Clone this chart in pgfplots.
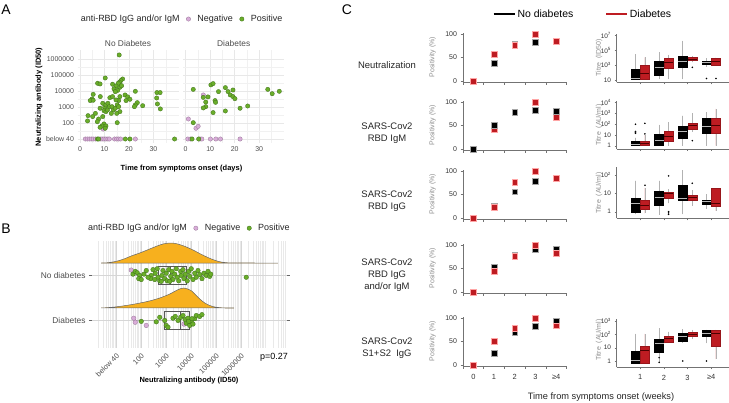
\documentclass[border=0pt]{standalone}
\usepackage{fontspec}
\setmainfont{Liberation Sans}
\usepackage{pgfplots}
\pgfplotsset{compat=1.18}
\usepgfplotslibrary{statistics}
\newcommand\fs[1]{\fontsize{#1}{#1}\selectfont}
\definecolor{grn}{RGB}{106,174,42}
\definecolor{grnE}{RGB}{62,110,28}
\definecolor{pnk}{RGB}{216,172,216}
\definecolor{pnkE}{RGB}{150,118,150}
\definecolor{orng}{RGB}{247,176,30}
\definecolor{dred}{RGB}{190,28,34}
\definecolor{txtg}{RGB}{77,77,77}
\definecolor{gridc}{RGB}{232,232,232}
\pgfplotsset{
  base/.style={scale only axis, anchor=south west, /pgf/number format/assume math mode=true, tick label style={font=\fs{7}}},
  facetA/.style={base, width=101bp, height=93bp, xmin=-1, xmax=40.2, ymin=0.75, ymax=6.56,
     axis line style={draw=none}, tick style={draw=none}, grid=both,
     major grid style={draw=gridc, line width=0.6pt}, minor grid style={draw=gridc!60, line width=0.4pt},
     xtick={0,10,20,30}, minor xtick={5,15,25,35}, ytick={1,2,3,4,5,6}, minor ytick={1.5,2.5,3.5,4.5,5.5},
     tick label style={text=txtg, font=\fs{7}}},
  negA/.style={only marks, mark=*, mark size=2.2bp, mark options={fill=pnk, draw=pnkE, line width=0.3pt}},
  posA/.style={only marks, mark=*, mark size=2.2bp, mark options={fill=grn, draw=grnE, line width=0.3pt}},
  mlegend/.style={legend style={draw=none, fill=none, legend columns=-1, font=\fs{9}, text=black!85, /tikz/every even column/.append style={column sep=0bp}}, legend image code/.code={\path[draw=none, fill=none] (0bp,-1bp) rectangle (14bp,1bp); \draw[##1] plot coordinates {(7bp,0bp)};}},
  cscat/.style={base, width=103.5bp, height=49.8bp, xmin=-0.5, xmax=4.5, ymin=-3, ymax=103, clip=false,
     axis lines=left, axis line style={-, draw=black!55, line width=0.5pt}, tick align=outside, major tick length=2.5bp,
     tick style={black!55, line width=0.5pt}, xtick={-0.5,0.5,1.5,2.5,3.5,4.5}, xticklabels={}, ytick={0,50,100},
     tick label style={text=black!80, font=\fs{7}}},
  ksq/.style={only marks, mark=square*, mark size=2.9bp, mark options={fill=black, draw=black!35, line width=0.4pt}},
  rsq/.style={only marks, mark=square*, mark size=2.9bp, mark options={fill=dred, draw=red!35, line width=0.4pt}},
  cbox/.style={base, width=112.5bp, xmin=0, xmax=4.75, axis lines=left, axis line style={-, draw=black!55, line width=0.5pt},
     tick align=outside, major tick length=2bp, tick style={black!55}, xtick={1,2,3,4}, xticklabels={},
     tick label style={text=black!80, font=\fs{6.5}}, boxplot/draw direction=y},
  kbox/.style={draw=black, fill=black, line width=0.4pt, boxplot/box extend=0.38, boxplot/whisker extend=0,
     boxplot/every whisker/.style={draw=gray!60, line width=0.7pt}, boxplot/every median/.style={draw=gray!55, line width=0.6pt}},
  rbox/.style={draw=dred!80!black, fill=dred, line width=0.4pt, boxplot/box extend=0.38, boxplot/whisker extend=0,
     boxplot/every whisker/.style={draw=gray!60, line width=0.7pt}, boxplot/every median/.style={draw=red!30!black, line width=0.6pt}},
  outl/.style={only marks, mark=*, mark size=0.6bp, mark options={fill=gray!60, draw=none}},
}
\newcommand\KB[6]{\addplot[kbox, boxplot prepared={draw position=#1, lower whisker=#2, lower quartile=#3, median=#4, upper quartile=#5, upper whisker=#6}] coordinates {};}
\newcommand\RB[6]{\addplot[rbox, boxplot prepared={draw position=#1, lower whisker=#2, lower quartile=#3, median=#4, upper quartile=#5, upper whisker=#6}] coordinates {};}
\begin{document}
\begin{tikzpicture}
\path[use as bounding box] (0,0) rectangle (729bp,403bp);
% ---------------- Panel A ----------------
\node[font=\fs{14}] at (6bp,393bp) {A};
\begin{axis}[facetA, at={(77.5bp,260bp)}, yticklabels={below 40,100,1000,10000,100000,1000000},
  mlegend, legend style={at={(1.03,1.333)}, anchor=center}]
\addlegendimage{empty legend}\addlegendentry{anti-RBD IgG and/or IgM}
\addplot[negA] coordinates {(9.5,1.62)(2.2,1)(3.0,1)(3.8,1)(4.6,1)(5.4,1)(6.3,1)(8.2,1)(9.0,1)(9.8,1)(10.6,1)(11.4,1)(12.0,1)(14.1,1)(15.0,1)(15.8,1)(16.6,1)(22.6,1)};
\addlegendentry{Negative}
\addplot[posA] coordinates {(16.0,6.25)(10.3,4.81)(7.2,4.48)(8.2,4.44)(13.3,4.42)(17.4,4.75)(16.7,4.65)(16.1,4.54)(15.6,4.48)(14.7,4.31)(16.3,4.23)(17.0,4.33)(13.9,4.13)(15.4,4.04)(14.4,3.96)(22.6,3.98)(31.4,3.90)(32.7,3.90)(5.4,3.79)(8.3,3.65)(4.9,3.50)(4.2,3.40)(5.4,3.42)(12.2,3.58)(13.3,3.65)(16.3,3.65)(18.4,3.75)(19.5,3.63)(20.4,3.48)(18.8,3.40)(15.8,3.40)(14.7,3.44)(31.3,3.56)(31.6,3.19)(32.8,2.88)(23.4,3.27)(22.6,3.13)(22.2,3.02)(25.6,3.08)(9.3,3.23)(10.1,2.98)(10.6,3.13)(11.4,3.23)(12.0,3.02)(8.2,2.92)(9.8,2.77)(10.6,2.71)(11.2,2.81)(13.1,3.02)(13.6,2.81)(14.4,2.92)(15.2,3.13)(15.8,3.02)(16.3,2.71)(12.8,2.60)(15.0,2.60)(6.3,2.60)(5.2,2.40)(3.3,2.46)(3.1,2.13)(9.3,2.40)(7.6,2.25)(7.1,2.08)(15.2,2.02)(9.8,1.94)(9.0,1.81)(8.2,1.73)(10.6,1.81)(10.3,1.67)(7.1,1)(7.6,1)(18.5,1)(20.4,1)(38.6,1)};
\addlegendentry{Positive}
\end{axis}
\begin{axis}[facetA, at={(183.2bp,260bp)}, yticklabels={}]
\addplot[negA] coordinates {(7.2,3.75)(1.1,2.25)(4.2,1.67)(5.1,1.79)(0.9,1)(2.0,1)(5.8,1)(6.6,1)(10.1,1)(12.3,1)(14.2,1)(22.2,1)};
\addplot[posA] coordinates {(3.1,4.10)(10.3,4.38)(11.2,4.46)(16.2,4.21)(17.3,3.96)(19.3,4.06)(18.2,3.75)(19.3,3.65)(20.1,3.52)(13.4,3.96)(33.5,4.10)(35.3,3.83)(38.2,3.98)(7.2,3.60)(9.1,3.63)(8.2,3.31)(12.0,3.40)(12.2,3.29)(8.2,3.02)(7.2,2.94)(11.2,2.65)(16.2,2.75)(22.2,2.92)(25.3,3.06)(3.1,2.02)(2.6,1)(5.3,1)};
\end{axis}
\node[font=\fs{8.4}, text=txtg] at (128bp,359bp) {No Diabetes};
\node[font=\fs{8.4}, text=txtg] at (233.7bp,359bp) {Diabetes};
\node[font=\bfseries\fs{7.5}, rotate=90] at (39bp,306bp) {Neutralizing antibody (ID50)};
\node[font=\bfseries\fs{7.5}] at (181.5bp,234bp) {Time from symptoms onset (days)};
% ---------------- Panel B ----------------
\node[font=\fs{14}] at (6bp,174bp) {B};
\begin{axis}[base, at={(92bp,55bp)}, width=195bp, height=107bp, xmin=0.04, xmax=7.84, ymin=0.378, ymax=2.756,
  axis line style={draw=none}, xtick={1,2,3,4,5,6}, xticklabels={below 40,100,1000,10000,100000,1000000},
  minor xtick={0.301,0.477,0.602,0.699,0.778,0.845,0.903,0.954,1.301,1.477,1.602,1.699,1.778,1.845,1.903,1.954,2.301,2.477,2.602,2.699,2.778,2.845,2.903,2.954,3.301,3.477,3.602,3.699,3.778,3.845,3.903,3.954,4.301,4.477,4.602,4.699,4.778,4.845,4.903,4.954,5.301,5.477,5.602,5.699,5.778,5.845,5.903,5.954,6.301,6.477,6.602,6.699,6.778,6.845,6.903,6.954,7.301,7.477,7.602,7.699,7.778},
  ytick={1,2}, yticklabels={Diabetes,No diabetes}, xmajorgrids, xminorgrids, ymajorgrids,
  major grid style={draw=gray!32, line width=0.6pt}, minor grid style={draw=gray!17, line width=0.35pt},
  tick align=outside, major tick length=3bp, minor tick length=0pt, xtick style={draw=none}, ytick style={draw=black!60, line width=0.5pt},
  xticklabel shift=-3bp,
  x tick label style={rotate=45, anchor=north east, text=txtg, font=\fs{7.4}}, y tick label style={text=txtg, font=\fs{8.4}},
  boxplot/draw direction=x, mlegend, legend style={at={(0.497,1.12)}, anchor=center}]
\addlegendimage{empty legend}\addlegendentry{anti-RBD IgG and/or IgM}
\addlegendimage{negA}\addlegendentry{Negative}
\addlegendimage{posA}\addlegendentry{Positive}
\addplot[fill=orng, draw=black!60, line width=0.5pt, smooth, tension=0.5] coordinates {(0.41,2.267)(0.68,2.274)(1.01,2.304)(1.35,2.363)(1.61,2.423)(1.95,2.489)(2.28,2.563)(2.61,2.637)(2.88,2.689)(3.15,2.711)(3.41,2.697)(3.75,2.637)(4.08,2.556)(4.41,2.460)(4.75,2.371)(5.08,2.304)(5.41,2.274)(5.88,2.267)(6.21,2.271)(6.55,2.267)(7.48,2.267)} -- cycle;
\addplot[fill=orng, draw=black!60, line width=0.5pt, smooth, tension=0.5] coordinates {(0.41,1.267)(0.95,1.289)(1.61,1.341)(2.28,1.415)(2.75,1.489)(3.15,1.578)(3.48,1.674)(3.72,1.711)(4.01,1.652)(4.28,1.504)(4.55,1.378)(4.88,1.297)(5.35,1.267)(5.72,1.267)} -- cycle;
\addplot[draw=black!65, line width=0.5pt, boxplot prepared={draw position=2, lower whisker=1.6, lower quartile=2.68, median=3.19, upper quartile=3.81, upper whisker=4.75, box extend=0.4, whisker extend=0}, boxplot/every whisker/.style={draw=gray!60}] coordinates {};
\addplot[draw=black!65, line width=0.5pt, boxplot prepared={draw position=1, lower whisker=1.72, lower quartile=2.95, median=3.59, upper quartile=3.95, upper whisker=4.35, box extend=0.4, whisker extend=0}, boxplot/every whisker/.style={draw=gray!60}] coordinates {};
\addplot[negA, mark size=2.3bp] coordinates {(1.61,2.11)(1.71,1.04)(1.77,0.95)(2.21,0.88)(3.72,0.91)};
\addplot[posA, mark size=2.3bp] coordinates {(1.68,2.02)(1.77,2.08)(1.85,2.05)(1.95,1.99)(1.91,1.92)(2.01,1.90)(2.12,2.02)(2.21,2.10)(2.41,1.99)(2.39,1.92)(2.48,2.12)(2.57,2.04)(2.65,2.14)(2.68,1.95)(2.75,1.87)(2.84,1.99)(2.88,2.10)(2.95,1.92)(3.01,2.04)(3.05,1.87)(3.11,2.12)(3.19,1.97)(3.24,2.08)(3.28,1.90)(3.35,2.02)(3.41,2.14)(3.45,1.95)(3.51,1.87)(3.59,2.08)(3.61,1.99)(3.68,2.12)(3.72,1.92)(3.77,2.02)(3.85,1.87)(3.91,2.08)(3.95,1.97)(4.01,2.14)(4.08,1.90)(4.15,2.04)(4.21,1.95)(4.28,2.10)(4.35,2.01)(4.44,1.92)(4.52,2.04)(4.61,1.99)(4.68,2.08)(4.75,1.97)(4.79,2.02)(6.21,1.95)(2.81,1.86)(3.15,1.86)(2.28,1.95)(2.55,1.90)
(2.01,0.97)(2.61,0.96)(2.75,1.06)(2.95,0.99)(3.01,0.88)(3.08,0.84)(3.28,1.04)(3.37,1.08)(3.48,0.99)(3.59,1.06)(3.68,1.10)(3.77,1.01)(3.81,0.93)(3.88,1.04)(3.95,0.88)(4.01,0.97)(4.08,0.91)(4.15,1.03)(4.21,1.10)(4.35,1.08)(4.44,1.12)(3.91,0.97)(4.04,1.03)};
\end{axis}
\node[font=\bfseries\fs{7.5}] at (189bp,22bp) {Neutralizing antibody (ID50)};
\node[font=\fs{9}] at (274bp,46bp) {p=0.27};
% ---------------- Panel C ----------------
\node[font=\fs{14}] at (347bp,393bp) {C};
\begin{axis}[cscat, at={(463bp,320.6bp)},
  legend style={at={(1.16,1.373)}, anchor=center, draw=none, fill=none, legend columns=-1, font=\fs{10.5}, text=black, /tikz/every even column/.append style={column sep=30bp}},
  legend image code/.code={\draw[#1] (0bp,0bp) -- (21bp,0bp);}]
\addlegendimage{black, line width=1.6pt}\addlegendentry{No diabetes}
\addlegendimage{dred, line width=1.6pt}\addlegendentry{Diabetes}
\addplot[ksq] coordinates {(0,0)(1,37.6)(2,79.4)(3,82.3)(4,85)};
\addplot[rsq] coordinates {(0,0)(1,56.7)(2,76.6)(3,100)(4,84)};
\end{axis}
\begin{axis}[cscat, at={(463bp,252.6bp)}]
\addplot[rsq] coordinates {(0,0)(1,42.3)(2,77.5)(3,100)(4,66.9)};
\addplot[ksq] coordinates {(0,0)(1,51.4)(2,77.5)(3,82.4)(4,79.6)};
\end{axis}
\begin{axis}[cscat, at={(463bp,183.6bp)}]
\addplot[ksq] coordinates {(0,0)(1,24.5)(2,56)(3,79)(4,85)};
\addplot[rsq] coordinates {(0,0)(1,22.4)(2,77)(3,100)(4,84)};
\end{axis}
\begin{axis}[cscat, at={(463bp,109.6bp)}]
\addplot[ksq] coordinates {(0,0)(1,52)(2,78)(3,90.8)(4,91.5)};
\addplot[rsq] coordinates {(0,0)(1,43.7)(2,77)(3,100)(4,83)};
\end{axis}
\begin{axis}[cscat, at={(463bp,36.6bp)}, extra x ticks={0,1,2,3,4}, extra x tick labels={0,1,2,3,≥4},
  extra x tick style={major tick length=0pt, tick label style={yshift=-4bp, font=\fs{7.5}}}]
\addplot[ksq] coordinates {(0,0)(1,24.6)(2,69)(3,83)(4,93.7)};
\addplot[rsq] coordinates {(0,0)(1,50.7)(2,77.5)(3,100)(4,83.8)};
\end{axis}
% boxplots
\begin{axis}[cbox, at={(616.5bp,320.7bp)}, height=48bp, ymin=0.69, ymax=7.14, ytick={1,3,5,7},
  yticklabels={10,10\textsuperscript{3},10\textsuperscript{5},10\textsuperscript{7}}]
\KB{0.8}{1.13}{1.13}{1.25}{2.48}{4.45}
\RB{1.2}{1.13}{1.13}{1.9}{2.93}{4.05}
\KB{1.8}{1.13}{1.67}{2.7}{3.47}{4.72}
\RB{2.2}{1.13}{2.57}{3.38}{3.91}{4.36}
\KB{2.8}{1.13}{2.7}{3.47}{4.14}{6.25}
\RB{3.2}{3.38}{3.6}{3.83}{4.0}{4.2}
\KB{3.8}{2.8}{3.1}{3.33}{3.56}{3.9}
\RB{4.2}{2.93}{2.93}{3.47}{3.91}{4.0}
\addplot[outl] coordinates {(3.2,2.7)(3.8,1.2)(4.2,1.2)};
\end{axis}
\begin{axis}[cbox, at={(616.5bp,254bp)}, height=48bp, ymin=-0.31, ymax=4.12, ytick={0,1,2,3,4},
  yticklabels={1,10,10\textsuperscript{2},10\textsuperscript{3},10\textsuperscript{4}}]
\KB{0.8}{0}{0}{0.1}{0.37}{0.74}
\RB{1.2}{0}{0}{0.22}{0.37}{0.98}
\KB{1.8}{0}{0}{0.52}{1.05}{1.91}
\RB{2.2}{0}{0.37}{0.83}{1.29}{2.15}
\KB{2.8}{0}{0.68}{1.35}{1.75}{2.77}
\RB{3.2}{1.29}{1.54}{1.85}{2.06}{2.98}
\KB{3.8}{0}{1.17}{1.82}{2.5}{3.1}
\RB{4.2}{0}{1.17}{1.9}{2.5}{3.4}
\addplot[outl] coordinates {(0.8,1.97)(0.8,1.3)(0.8,1.23)(0.8,1.15)(1.2,2.06)(1.2,1.08)(3.2,0.46)};
\end{axis}
\begin{axis}[cbox, at={(616.5bp,184.7bp)}, height=51.6bp, ymin=-0.36, ymax=2.45, ytick={0,1,2},
  yticklabels={1,10,10\textsuperscript{2}}]
\KB{0.8}{-0.13}{-0.05}{0.45}{0.73}{1.69}
\RB{1.2}{-0.09}{0.13}{0.33}{0.6}{1.3}
\KB{1.8}{-0.18}{0.36}{0.76}{1.13}{1.69}
\RB{2.2}{0.45}{0.73}{1.0}{1.07}{1.22}
\KB{2.8}{-0.13}{0.6}{0.73}{1.45}{2.27}
\RB{3.2}{0.31}{0.6}{0.78}{0.91}{1.18}
\KB{3.8}{0.15}{0.42}{0.55}{0.64}{0.95}
\RB{4.2}{0.04}{0.31}{0.45}{1.27}{1.27}
\addplot[outl] coordinates {(1.2,1.44)(2.2,1.95)(2.2,0.0)(2.2,-0.07)(2.2,-0.14)(3.2,1.55)};
\end{axis}
\begin{axis}[cbox, at={(616.5bp,35.7bp)}, height=48bp, ymin=-0.475, ymax=3.125, ytick={0,1,2,3},
  yticklabels={1,10,10\textsuperscript{2},10\textsuperscript{3}},
  xticklabels={1,2,3,≥4}, x tick label style={font=\fs{7.5}, yshift=-2bp}]
\KB{0.8}{-0.18}{-0.18}{0.08}{0.7}{2.03}
\RB{1.2}{-0.18}{-0.18}{0.83}{1.13}{2.03}
\KB{1.8}{-0.18}{0.63}{1.33}{1.63}{2.45}
\RB{2.2}{1.38}{1.38}{1.7}{1.88}{2.2}
\KB{2.8}{1.38}{1.45}{1.88}{2.08}{2.38}
\RB{3.2}{1.63}{1.83}{2.0}{2.13}{2.33}
\KB{3.8}{1.33}{1.83}{2.08}{2.33}{2.33}
\RB{4.2}{0.13}{1.08}{2.08}{2.33}{2.33}
\addplot[outl] coordinates {(1.8,0.25)(1.8,-0.1)(2.8,0)(3.8,0)};
\end{axis}
% C texts
\begin{scope}[every node/.style={font=\fontsize{9.5}{12}\selectfont, align=center, text=black!85}]
\node at (387bp,338bp) {Neutralization};
\node at (387bp,270bp) {SARS-Cov2\\RBD IgM};
\node at (387bp,202bp) {SARS-Cov2\\RBD IgG};
\node at (387bp,128bp) {SARS-Cov2\\RBD IgG\\and/or IgM};
\node at (387bp,55bp) {SARS-Cov2\\S1+S2\ \ IgG};
\end{scope}
\begin{scope}[every node/.style={font=\fs{7}, rotate=90, text=black!45}]
\node at (432.5bp,346bp) {Positivity (\%)};
\node at (432.5bp,278bp) {Positivity (\%)};
\node at (432.5bp,209bp) {Positivity (\%)};
\node at (432.5bp,135bp) {Positivity (\%)};
\node at (432.5bp,62bp) {Positivity (\%)};
\node at (599bp,345bp) {Titre\ \ (ID50)};
\node at (599bp,278bp) {Titre\ \ (AU/ml)};
\node at (599bp,210bp) {Titre\ \ (AU/ml)};
\node at (599bp,63bp) {Titre\ \ (AU/ml)};
\end{scope}
\node[font=\fs{9.3}, text=black!85] at (601bp,6bp) {Time from symptoms onset (weeks)};
\end{tikzpicture}
\end{document}
